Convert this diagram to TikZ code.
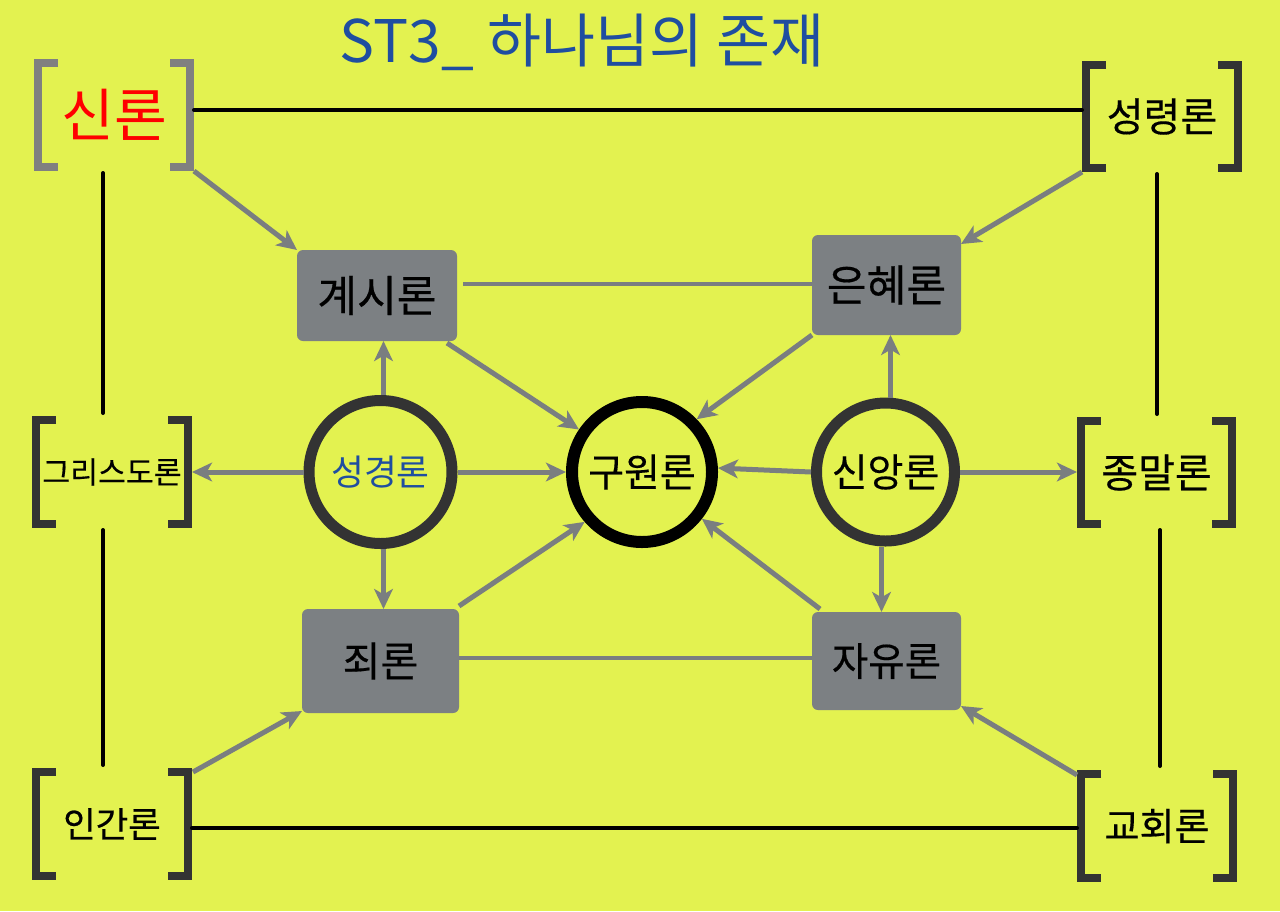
\documentclass[tikz,border=0pt]{standalone}
\usepackage{fontspec}
\setmainfont{Noto Sans CJK KR}
\newfontfamily\kmed[FakeBold=0.4]{Noto Sans CJK KR}
\usetikzlibrary{arrows.meta,calc}
\definecolor{bg}{RGB}{227,242,80}
\definecolor{arrgray}{RGB}{122,126,128}
\definecolor{boxgray}{RGB}{124,128,131}
\definecolor{darkline}{RGB}{51,51,51}
\definecolor{lightbrk}{RGB}{128,128,128}
\definecolor{titleblue}{RGB}{31,78,160}
\newcommand\kfs[1]{\fontsize{#1}{#1}\selectfont}
\newcommand\drawbrackets[2]{%
  \draw[bracketline,#2] ($(#1.north west)+(24,4)$) -- ($(#1.north west)+(4,4)$) -- ($(#1.south west)+(4,-4)$) -- ($(#1.south west)+(24,-4)$);
  \draw[bracketline,#2] ($(#1.north east)+(-24,4)$) -- ($(#1.north east)+(-4,4)$) -- ($(#1.south east)+(-4,-4)$) -- ($(#1.south east)+(-24,-4)$);
}
\tikzset{
  brkbox/.style={inner sep=0pt, outer sep=0pt, minimum width=120pt, minimum height=84pt, text=black},
  bracketline/.style={line width=6pt, line join=miter, line cap=butt},
  graybox/.style={fill=boxgray, rounded corners=4.5pt, inner sep=0pt, outer sep=0pt, text=black},
  ring/.style={circle, inner sep=0pt, text=black},
  arr/.style={draw=arrgray, line width=3.75pt, -{Stealth[length=15pt,width=14pt,inset=4pt]}},
  grayline/.style={draw=arrgray, line width=3pt},
  blackline/.style={draw=black, line width=3pt, line cap=round},
}
\begin{document}
\begin{tikzpicture}[x=0.75pt,y=-0.75pt]
\fill[bg] (0,0) rectangle (1280,911);
\useasboundingbox (0,0) rectangle (1280,911);

% title
\node[text=titleblue, font=\kfs{44pt}, inner sep=0pt] (title) at (582,42) {ST3\_ 하나님의 존재};

% bracket groups
\node[brkbox, text=red, font=\kfs{43pt}] (sinron) at (114,115) {신론};
\node[brkbox, minimum height=83.25pt, font=\kmed\kfs{30pt}] (seongryeong) at (1162,116.5) {성령론};
\node[brkbox, font=\kmed\kfs{22.7pt}] (geuriseudo) at (112,472) {그리스도론};
\node[brkbox, minimum width=119.25pt, minimum height=83.25pt, font=\kmed\kfs{30pt}] (jongmal) at (1156.5,472.5) {종말론};
\node[brkbox, font=\kmed\kfs{26.5pt}] (ingan) at (112,824) {인간론};
\node[brkbox, font=\kmed\kfs{28.5pt}] (gyohoe) at (1157,826) {교회론};

\drawbrackets{sinron}{lightbrk}
\drawbrackets{seongryeong}{darkline}
\drawbrackets{geuriseudo}{darkline}
\drawbrackets{jongmal}{darkline}
\drawbrackets{ingan}{darkline}
\drawbrackets{gyohoe}{darkline}

% gray boxes
\node[graybox, minimum width=120pt, minimum height=68.25pt, font=\kmed\kfs{32.4pt}] (gyesi) at (377,295.5) {계시론};
\node[graybox, minimum width=111.75pt, minimum height=75pt, font=\kmed\kfs{32.4pt}] (eunhye) at (886.5,285) {은혜론};
\node[graybox, minimum width=117.75pt, minimum height=78pt, font=\kmed\kfs{30.8pt}] (joe) at (380.5,661) {죄론};
\node[graybox, minimum width=111.75pt, minimum height=73.5pt, font=\kmed\kfs{29.7pt}] (jayu) at (886.5,661) {자유론};

% circles
\node[ring, draw=darkline, line width=8.25pt, minimum size=107.25pt, text=titleblue, font=\kfs{26.8pt}] (seonggyeong) at (380.5,472) {성경론};
\node[ring, draw=black, line width=9pt, minimum size=105pt, font=\kmed\kfs{29.2pt}] (guwon) at (642,472) {구원론};
\node[ring, draw=darkline, line width=8.25pt, minimum size=103.5pt, font=\kmed\kfs{29.2pt}] (sinang) at (885.5,472) {신앙론};

% black outer lines
\draw[blackline] ($(sinron.east)+(0,-5)$) -- ($(seongryeong.west)+(0,-6.5)$);
\draw[blackline] ($(ingan.east)+(0,4)$) -- ($(gyohoe.west)+(0,2)$);
\draw[blackline] ($(sinron.south)+(-11,2)$) -- ($(geuriseudo.north)+(-9,-3)$);
\draw[blackline] ($(geuriseudo.south)+(-9,2)$) -- ($(ingan.north)+(-9,-3)$);
\draw[blackline] ($(seongryeong.south)+(-5,2)$) -- ($(jongmal.north)+(0.5,-3)$);
\draw[blackline] ($(jongmal.south)+(3.5,2)$) -- ($(gyohoe.north)+(3,-4)$);

% gray plain lines
\coordinate (gyR) at ($(gyesi.east)+(6,-12)$);
\draw[grayline] (gyR) -- (gyR -| eunhye.west);
\coordinate (joR) at ($(joe.east)+(0,-3)$);
\draw[grayline] (joR) -- (joR -| jayu.west);

% arrows from corner brackets
\draw[arr] (sinron.south east) -- (gyesi.north west);
\draw[arr] (seongryeong.south west) -- ($(eunhye.north east)+(0,9)$);
\draw[arr] ($(ingan.north east)+(1,4)$) -- ($(joe.south west)+(0,-2)$);
\draw[arr] ($(gyohoe.north west)+(0,5)$) -- ($(jayu.south east)+(0,-4)$);

% arrows from 성경론
\coordinate (sgT) at ($(seonggyeong.north)+(3,0)$);
\draw[arr] (sgT) -- (sgT |- gyesi.south);
\coordinate (sgB) at ($(seonggyeong.south)+(3,0)$);
\draw[arr] (sgB) -- (sgB |- joe.north);
\draw[arr] (seonggyeong.west) -- (seonggyeong.west -| geuriseudo.east);
\draw[arr] (seonggyeong.east) -- (guwon.west);

% arrows from 신앙론
\coordinate (snT) at ($(sinang.north)+(5,0)$);
\draw[arr] (snT) -- (snT |- eunhye.south);
\coordinate (snB) at ($(sinang.south)+(-4,0)$);
\draw[arr] (snB) -- (snB |- jayu.north);
\draw[arr] (sinang.east) -- (sinang.east -| jongmal.west);
\draw[arr] (sinang.west) -- (guwon.3);

% arrows into 구원론
\draw[arr] ($(gyesi.south east)+(-10,2)$) -- (guwon.146);
\draw[arr] (eunhye.south west) -- (guwon.44);
\draw[arr] ($(joe.north east)+(0,-3)$) -- (guwon.221);
\draw[arr] ($(jayu.north west)+(8,-3)$) -- (guwon.322);
\end{tikzpicture}
\end{document}
